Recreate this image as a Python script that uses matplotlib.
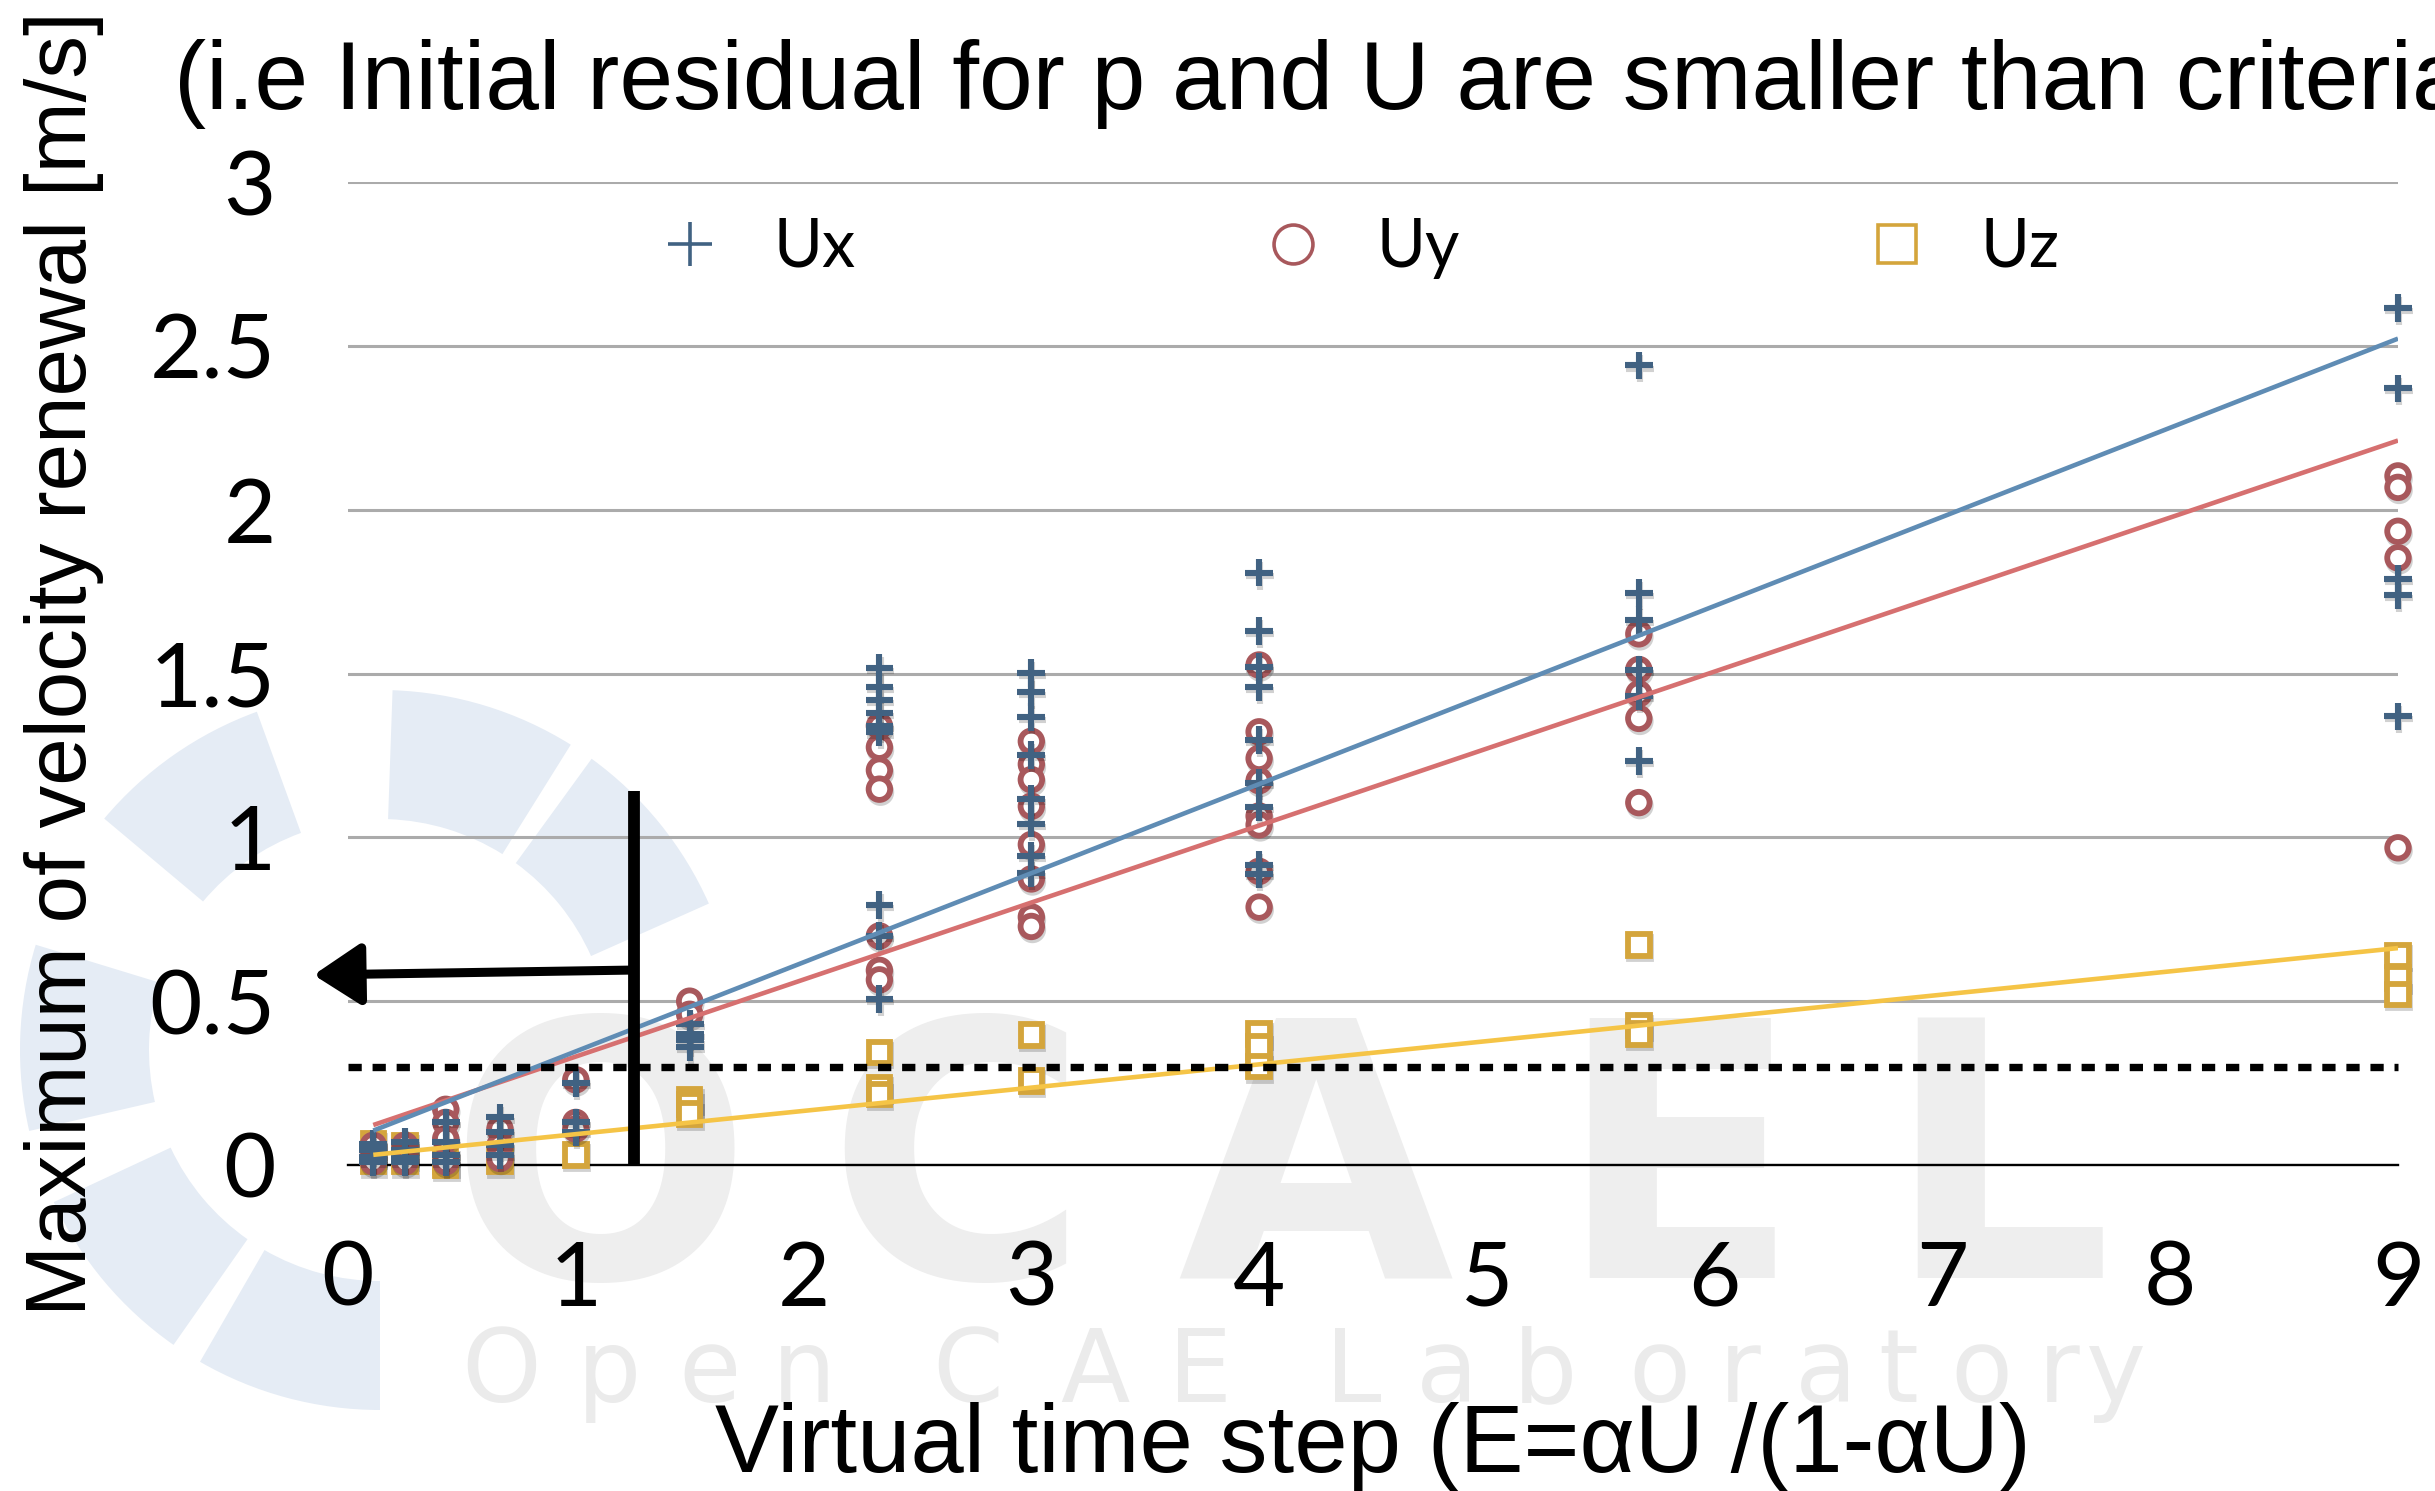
import numpy as np
import matplotlib
matplotlib.use("Agg")
import matplotlib.pyplot as plt
from matplotlib.lines import Line2D
from matplotlib.patches import Wedge
import matplotlib.patheffects as pe

# ---------------- data ----------------
E_values = [0.111, 0.25, 0.429, 0.667, 1.0, 1.5, 2.333, 3.0, 4.0, 5.667, 9.0]

ux_values = [
    [0.065, 0.045, 0.025, 0.01],
    [0.07, 0.045, 0.02, 0.01],
    [0.13, 0.07, 0.03, 0.01],
    [0.145, 0.10, 0.06, 0.03],
    [0.25, 0.13, 0.10],
    [0.43, 0.40, 0.38, 0.36],
    [1.516, 1.458, 1.418, 1.38, 1.34, 1.32, 0.794, 0.70, 0.507],
    [1.502, 1.444, 1.368, 1.252, 1.118, 1.042, 0.943, 0.891],
    [1.808, 1.630, 1.519, 1.458, 1.298, 1.167, 1.092, 0.916, 0.889],
    [2.440, 1.745, 1.664, 1.512, 1.431, 1.234],
    [2.615, 2.370, 1.789, 1.740, 1.369],
]
uy_values = [
    [0.06, 0.03, 0.01],
    [0.06, 0.03, 0.01],
    [0.17, 0.13, 0.08, 0.01],
    [0.11, 0.06, 0.02],
    [0.26, 0.13, 0.11],
    [0.50, 0.46],
    [1.34, 1.275, 1.205, 1.147, 0.699, 0.594, 0.565],
    [1.293, 1.223, 1.176, 1.095, 0.978, 0.873, 0.757, 0.728],
    [1.526, 1.322, 1.241, 1.173, 1.065, 1.038, 0.896, 0.787],
    [1.621, 1.512, 1.438, 1.363, 1.106],
    [2.103, 2.068, 1.934, 1.853, 0.968],
]
uz_values = [
    [0.065, 0.035, 0.01],
    [0.06, 0.03, 0.01],
    [0.01, 0.0],
    [0.01],
    [0.03],
    [0.20, 0.185, 0.155],
    [0.344, 0.235, 0.215],
    [0.396, 0.256],
    [0.40, 0.36, 0.30],
    [0.671, 0.426, 0.40],
    [0.64, 0.57, 0.52],
]

# linear trend lines (end points)
trend_x = [0.111, 9.0]
trend_ux = [0.105, 2.522]
trend_uy = [0.122, 2.211]
trend_uz = [0.031, 0.662]

threshold = 0.3
cut_E = 1.257
cut_top = 1.142
arrow_start_y = 0.595
arrow_end = (-0.151, 0.58)

x_ticks = [0, 1, 2, 3, 4, 5, 6, 7, 8, 9]
x_ticklabels = ["0", "1", "2", "3", "4", "5", "6", "7", "8", "9"]
y_ticks = [0, 0.5, 1, 1.5, 2, 2.5, 3]
y_ticklabels = ["0", "0.5", "1", "1.5", "2", "2.5", "3"]

series_names = ["Ux", "Uy", "Uz"]
title_text = "(i.e Initial residual for p and U are smaller than criteria)"
xlabel_text = "Virtual time step (E=\u03b1U /(1-\u03b1U)"
ylabel_text = "Maximum of velocity renewal [m/s]"
watermark_big = "OCAEL"
watermark_small = "Open CAE Laboratory"

# ---------------- style ----------------
C_UX, C_UY, C_UZ = "#416282", "#a8585c", "#d4a53c"
L_UX, L_UY, L_UZ = "#5f8cb4", "#d67070", "#f5c446"
TICK_FONT = "Lato"
TEXT_FONT = "Liberation Sans"

W, H = 2435, 1491
fig = plt.figure(figsize=(W / 100, H / 100), dpi=100, facecolor="white")


def fx(px):
    return px / W


def fy(py):
    return 1 - py / H


# ---- watermark (logo) ----
gear_color = "#e5ecf5"
for ang in [39, 73, 125, 178, 220, 255]:
    wdg = Wedge((3.80, (H - 1050) / 100), 3.60, ang - 15, ang + 15, width=1.29,
                transform=fig.dpi_scale_trans, facecolor=gear_color,
                edgecolor="none", zorder=-3)
    fig.add_artist(wdg)

big_centers = [600, 957, 1315, 1678, 1998]
for ch, cx in zip(watermark_big, big_centers):
    fig.text(fx(cx), fy(1278), ch, ha="center", va="baseline",
             fontsize=257, fontweight="bold", family="DejaVu Sans",
             color="#eeeeee", zorder=-2)

small_centers = [501, 609, 710, 804, 968, 1095, 1200, 1353, 1447, 1545,
                 1659, 1740, 1826, 1898, 1981, 2059, 2116]
chars = [c for c in watermark_small if c != " "]
for ch, cx in zip(chars, small_centers):
    fig.text(fx(cx), fy(1402), ch, ha="center", va="baseline",
             fontsize=73, family="DejaVu Sans", color="#ebebeb", zorder=-2)

# ---- axes ----
ax = fig.add_axes([fx(348), fy(1165), (2398 - 348) / W, (1165 - 182) / H])
ax.set_facecolor("none")
ax.set_xlim(0, 9)
ax.set_ylim(0, 3)
for s in ["top", "right", "left"]:
    ax.spines[s].set_visible(False)
ax.spines["bottom"].set_color("black")
ax.spines["bottom"].set_linewidth(1.7)
ax.spines["bottom"].set_zorder(2.5)
ax.set_xticks(x_ticks)
ax.set_xticklabels(x_ticklabels)
ax.set_yticks(y_ticks)
ax.set_yticklabels(y_ticklabels)
ax.tick_params(axis="both", length=0, labelsize=65)
ax.tick_params(axis="y", pad=52)
ax.tick_params(axis="x", pad=54)
for lab in ax.get_xticklabels() + ax.get_yticklabels():
    lab.set_family(TICK_FONT)
ax.yaxis.grid(True, color="#ababab", linewidth=2.2)
ax.set_axisbelow(True)


def flatten(xs, groups):
    xx, yy = [], []
    for x, g in zip(xs, groups):
        for v in g:
            xx.append(x)
            yy.append(v)
    return xx, yy


shadow_line = [pe.SimpleLineShadow(offset=(0.8, -2.2), shadow_color="black",
                                   alpha=0.18), pe.Normal()]

xz, yz = flatten(E_values, uz_values)
ax.plot(xz, yz, linestyle="none", marker="s", markersize=15.5,
        markerfacecolor="white", markeredgecolor=C_UZ, markeredgewidth=4.2,
        zorder=3, clip_on=False, path_effects=shadow_line)
xy_, yy_ = flatten(E_values, uy_values)
ax.plot(xy_, yy_, linestyle="none", marker="o", markersize=15.5,
        markerfacecolor="white", markeredgecolor=C_UY, markeredgewidth=4.2,
        zorder=3.1, clip_on=False, path_effects=shadow_line)
xx_, yx_ = flatten(E_values, ux_values)
ax.plot(xx_, yx_, linestyle="none", marker="+", markersize=20,
        markeredgecolor=C_UX, markeredgewidth=4.4,
        zorder=3.2, clip_on=False, path_effects=shadow_line)

ax.plot(trend_x, trend_uz, color=L_UZ, lw=3.3, zorder=3.5, solid_capstyle="butt")
ax.plot(trend_x, trend_uy, color=L_UY, lw=3.3, zorder=3.6, solid_capstyle="butt")
ax.plot(trend_x, trend_ux, color=L_UX, lw=3.3, zorder=3.7, solid_capstyle="butt")

ax.plot([0, 9], [threshold, threshold], color="black", lw=5.3,
        linestyle=(0, (1.8, 1.47)), zorder=4, clip_on=False)

ax.plot([cut_E, cut_E], [0, cut_top], color="black", lw=8.5,
        solid_capstyle="butt", zorder=5)
ax.annotate("", xy=arrow_end, xytext=(cut_E, arrow_start_y),
            arrowprops=dict(arrowstyle="-|>,head_length=1.45,head_width=0.95",
                            lw=6.5, color="black", shrinkA=0, shrinkB=0,
                            mutation_scale=20),
            annotation_clip=False, zorder=5)

# legend
handles = [
    Line2D([], [], linestyle="none", marker="+", markersize=31,
           markeredgecolor=C_UX, markeredgewidth=2.6),
    Line2D([], [], linestyle="none", marker="o", markersize=28,
           markerfacecolor="white", markeredgecolor=C_UY, markeredgewidth=2.6),
    Line2D([], [], linestyle="none", marker="s", markersize=27,
           markerfacecolor="white", markeredgecolor=C_UZ, markeredgewidth=2.6),
]
leg = ax.legend(handles, series_names, ncol=3, loc="center",
                bbox_to_anchor=(0.4927, 0.933), frameon=False,
                prop={"family": TICK_FONT, "size": 48},
                handlelength=1.0, handletextpad=0.76, columnspacing=6.05,
                borderpad=0, borderaxespad=0)

# texts
fig.text(fx(174), fy(109), title_text, ha="left", va="baseline",
         fontsize=69.5, family=TEXT_FONT, color="black")
fig.text(fx(1373), fy(1472), xlabel_text, ha="center", va="baseline",
         fontsize=69, family=TEXT_FONT, color="black")
fig.text(fx(86), fy(1316), ylabel_text, ha="left", va="baseline",
         rotation=90, rotation_mode="anchor",
         fontsize=61.5, family=TEXT_FONT, color="black")

fig.savefig("out.png", dpi=100, facecolor="white")
